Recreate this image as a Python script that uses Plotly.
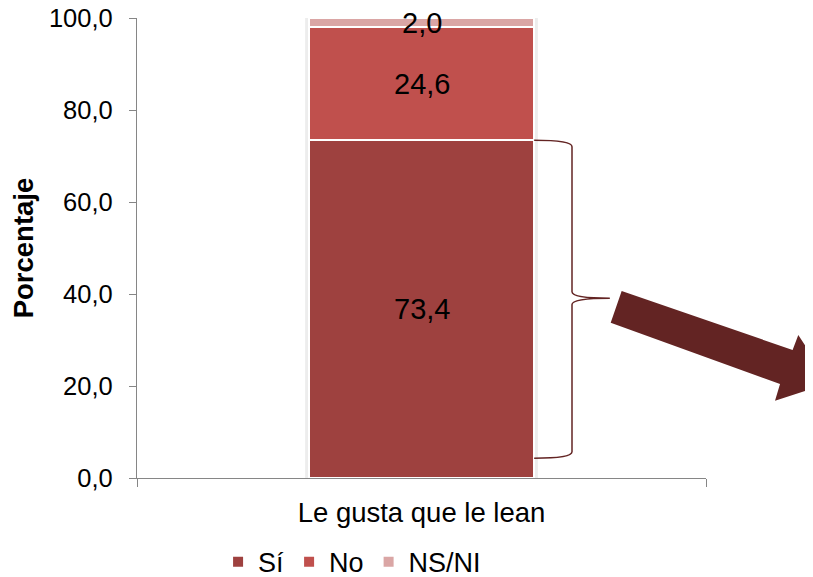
import plotly.graph_objects as go

# ---- data ----
categories = ["Le gusta que le lean"]
series_names = ["Sí", "No", "NS/NI"]
si_values = [73.4]
no_values = [24.6]
nsni_values = [2.0]
y_ticks = [0, 20, 40, 60, 80, 100]

colors = ["#9E413F", "#C0504D", "#DAA6A5"]
FONT = "Liberation Sans, Arial, sans-serif"

series = [si_values, no_values, nsni_values]
xpos = [0]
BAR_W = 0.395

fig = go.Figure()
for name, vals, col in zip(series_names, series, colors):
    fig.add_trace(go.Bar(
        x=xpos, y=vals, name=name, width=BAR_W,
        marker=dict(color=col, line=dict(color="white", width=2)),
        hoverinfo="skip",
    ))

# soft shadow behind the bar
total = si_values[0] + no_values[0] + nsni_values[0]
fig.add_shape(type="rect", xref="x", yref="y", layer="below",
              x0=-BAR_W / 2 - 0.007, x1=BAR_W / 2 + 0.007, y0=0, y1=total + 0.6,
              fillcolor="#EDEDED", line=dict(width=0))

# data labels at segment centres
base = 0.0
for vals in series:
    v = vals[0]
    fig.add_annotation(x=0, y=base + v / 2, xref="x", yref="y",
                       text=f"{v:.1f}".replace(".", ","), showarrow=False,
                       font=dict(family=FONT, size=29, color="black"))
    base += v

# curly brace next to the "Sí" segment
dark = "#632423"
top = si_values[0]
bot = 4.3
mid = 39.1
x0, xm, xt = 0.198, 0.2645, 0.331
path = (f"M {x0},{top} Q {xm},{top} {xm},{top-1.4} "
        f"L {xm},{mid+1.4} Q {xm},{mid} {xt},{mid} "
        f"Q {xm},{mid} {xm},{mid-1.4} "
        f"L {xm},{bot+1.4} Q {xm},{bot} {x0},{bot}")
fig.add_shape(type="path", path=path, xref="x", yref="y",
              line=dict(color=dark, width=1.5), fillcolor="rgba(0,0,0,0)")

# big arrow (decoration)
arrow_pts = [(0.8518, 0.4065), (1.1522, 0.2783), (1.1622, 0.3109), (1.2179, 0.2065),
             (1.1213, 0.1680), (1.1301, 0.2043), (0.8325, 0.3376)]
apath = "M " + " L ".join(f"{px},{py}" for px, py in arrow_pts) + " Z"
fig.add_shape(type="path", path=apath, xref="paper", yref="paper",
              line=dict(color=dark, width=0), fillcolor=dark)

# the page body adds an 8px offset, so the figure is 8px smaller and margins shifted
fig.update_layout(
    barmode="stack",
    width=805, height=569,
    margin=dict(l=129, r=107, t=10, b=99, autoexpand=False),
    paper_bgcolor="white", plot_bgcolor="white",
    separators=",.",
    font=dict(family=FONT, size=26, color="black"),
    showlegend=True,
    legend=dict(orientation="h", x=0.378, xanchor="center", y=-0.183, yanchor="middle",
                font=dict(family=FONT, size=27, color="black"),
                itemwidth=30, traceorder="normal"),
    xaxis=dict(range=[-0.5, 0.5], tickvals=xpos, ticktext=categories,
               showline=True, linecolor="#868686", linewidth=1.3,
               ticks="", showgrid=False, zeroline=False, automargin=False,
               ticklabelstandoff=10,
               tickfont=dict(family=FONT, size=27.5, color="black"),
               minor=dict(tickvals=[-0.5, 0.5], ticks="outside", ticklen=8,
                          tickcolor="#868686", tickwidth=1.3, showgrid=False)),
    yaxis=dict(range=[0, 100.0001], tickvals=y_ticks, tickformat=".1f",
               showline=True, linecolor="#868686", linewidth=1.3,
               ticks="outside", ticklen=7, tickcolor="#868686", tickwidth=1.3,
               showgrid=False, zeroline=False, automargin=False,
               ticklabelstandoff=11, ticklabeloverflow="allow",
               tickfont=dict(family=FONT, size=25.5, color="black"),
               title=dict(text="<b>Porcentaje</b>", standoff=11,
                          font=dict(family=FONT, size=27.5, color="black"))),
)

fig.write_html("out.html")
